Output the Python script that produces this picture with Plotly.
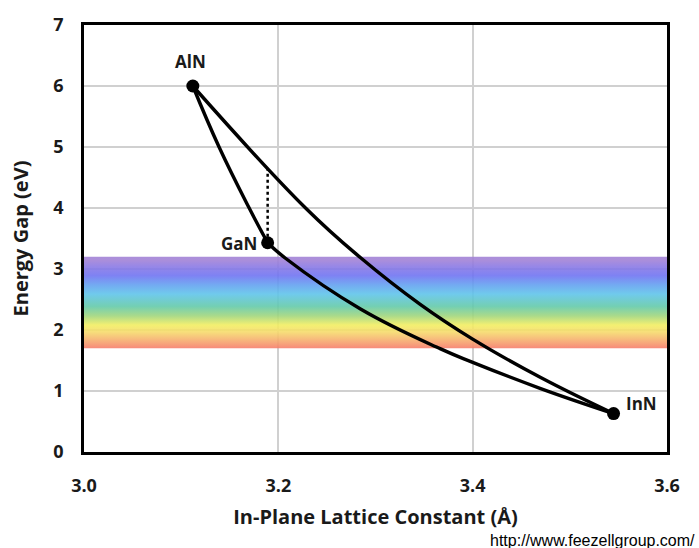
import plotly.graph_objects as go

# In-plane lattice constant (Å) and band gap (eV) of the binary nitrides
compounds = ["AlN", "GaN", "InN"]
lattice_a = [3.112, 3.189, 3.545]
energy_gap = [6.0, 3.43, 0.63]

# Ternary alloy curves (lattice constant, band gap)
algan_a = [3.112, 3.139, 3.170, 3.189]
algan_eg = [6.00, 5.00, 4.00, 3.43]

alinn_a = [3.112, 3.228, 3.285, 3.346, 3.400, 3.470, 3.545]
alinn_eg = [6.00, 4.00, 3.18, 2.42, 1.85, 1.22, 0.63]

gainn_a = [3.189, 3.207, 3.285, 3.367, 3.400, 3.470, 3.545]
gainn_eg = [3.43, 3.18, 2.34, 1.69, 1.47, 1.04, 0.63]

# Vertical marker at the GaN lattice constant, up to the AlInN curve
lm_a = [3.189, 3.189]
lm_eg = [3.43, 4.65]

# Visible spectrum band (eV)
visible_low, visible_high = 1.7, 3.2

x_ticks = [3.0, 3.2, 3.4, 3.6]
y_ticks = [0, 1, 2, 3, 4, 5, 6, 7]

# colour stops of the spectrum band, (energy, colour) from bottom to top
spectrum_stops = [
    (1.70, "rgb(246,100,100)"),
    (1.74, "rgb(246,112,106)"),
    (1.84, "rgb(246,150,108)"),
    (1.94, "rgb(246,186,110)"),
    (2.04, "rgb(246,220,108)"),
    (2.15, "rgb(242,238,98)"),
    (2.30, "rgb(160,214,126)"),
    (2.45, "rgb(100,202,170)"),
    (2.65, "rgb(96,196,234)"),
    (2.80, "rgb(100,160,240)"),
    (2.95, "rgb(112,116,242)"),
    (3.10, "rgb(140,122,228)"),
    (3.20, "rgb(162,130,214)"),
]
band_colorscale = [[(e - visible_low) / (visible_high - visible_low), c]
                   for e, c in spectrum_stops]

FONT = "Open Sans, Noto Sans, sans-serif"
fig = go.Figure()

# visible-spectrum band, slightly translucent so the grid shows through
fig.add_trace(go.Scatter(
    x=[x_ticks[0], x_ticks[-1], x_ticks[-1], x_ticks[0], x_ticks[0]],
    y=[visible_low, visible_low, visible_high, visible_high, visible_low],
    mode="lines", line=dict(width=0), fill="toself",
    fillgradient=dict(type="vertical", colorscale=band_colorscale,
                      start=visible_low, stop=visible_high),
    opacity=0.9, showlegend=False, hoverinfo="skip",
))

line_style = dict(color="black", width=3.4, shape="spline", smoothing=1.2)
for xs, ys in [(algan_a, algan_eg), (alinn_a, alinn_eg), (gainn_a, gainn_eg)]:
    fig.add_trace(go.Scatter(x=xs, y=ys, mode="lines", line=line_style,
                             showlegend=False, hoverinfo="skip"))

fig.add_trace(go.Scatter(x=lm_a, y=lm_eg, mode="lines",
                         line=dict(color="black", width=2.5, dash="dot"),
                         showlegend=False, hoverinfo="skip"))

fig.add_trace(go.Scatter(x=lattice_a, y=energy_gap, mode="markers",
                         marker=dict(color="black", size=13),
                         showlegend=False, hovertext=compounds))

label_offsets = {"AlN": (-2, 25, "center"), "GaN": (-9, -1, "right"), "InN": (10, 10, "left")}
for name, a, eg in zip(compounds, lattice_a, energy_gap):
    dx, dy, anchor = label_offsets[name]
    fig.add_annotation(x=a, y=eg, text=f"<b>{name}</b>", showarrow=False,
                       xanchor=anchor, yanchor="middle", xshift=dx, yshift=dy,
                       font=dict(family=FONT, size=17, color="#1a1a1a"))

fig.add_annotation(xref="paper", yref="paper", x=1, y=0, xshift=30, yshift=-88,
                   xanchor="right", yanchor="middle", showarrow=False,
                   text="http://www.feezellgroup.com/",
                   font=dict(family="Liberation Sans, Arial, sans-serif", size=16, color="black"))

axis_common = dict(
    showline=True, linecolor="black", linewidth=2.5, mirror=True,
    showgrid=True, gridcolor="#d0d0d0", gridwidth=2, zeroline=False,
    ticks="outside", tickcolor="rgba(0,0,0,0)",
    tickfont=dict(family=FONT, size=18, color="#1a1a1a"),
)

fig.update_xaxes(range=[3.0, 3.6], tickvals=x_ticks, ticklen=16,
                 ticktext=[f"<b>{v:.1f}</b>" for v in x_ticks],
                 title=dict(text="<b>In-Plane Lattice Constant (Å)</b>", standoff=14,
                            font=dict(family=FONT, size=20, color="#1a1a1a")),
                 **axis_common)
fig.update_yaxes(range=[0, 7], tickvals=y_ticks, ticklen=14,
                 ticktext=[f"<b>{v}</b>" for v in y_ticks],
                 title=dict(text="<b>Energy Gap (eV)</b>", standoff=20,
                            font=dict(family=FONT, size=20, color="#1a1a1a")),
                 **axis_common)

fig.update_layout(
    width=699, height=548,
    margin=dict(l=84, r=32, t=19, b=96),
    plot_bgcolor="white", paper_bgcolor="white",
)

fig.write_html("out.html")
